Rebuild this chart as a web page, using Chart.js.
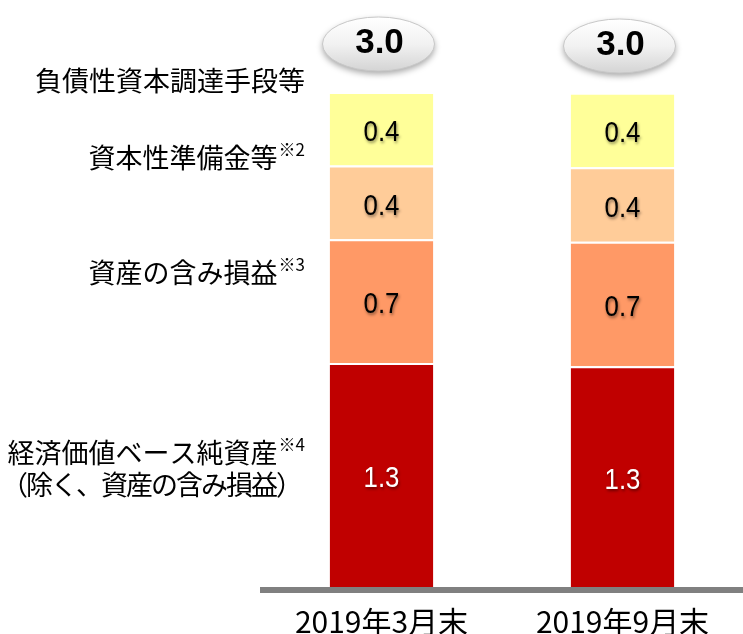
<!DOCTYPE html>
<html>
<head>
<meta charset="utf-8">
<script src="https://cdn.jsdelivr.net/npm/chart.js@4"></script>
<style>
  html, body { margin: 0; padding: 0; background: #fff; }
  #wrap { width: 743px; height: 634px; }
</style>
</head>
<body>
<div id="wrap"><canvas id="capitalChart" width="743" height="634"></canvas></div>
<script>
// categories and series (下から順に積み上げ)
const categories = ["2019年3月末", "2019年9月末"];
const netAssets = [1.34, 1.32];          // 経済価値ベース純資産
const unrealizedGains = [0.74, 0.745];   // 資産の含み損益
const capitalReserves = [0.44, 0.445];   // 資本性準備金等
const debtCapital = [0.44, 0.445];       // 負債性資本調達手段等

const seriesColors = ["#C00000", "#FF9966", "#FFCC99", "#FFFF99"];
const seriesNames = ["経済価値ベース純資産", "資産の含み損益", "資本性準備金等", "負債性資本調達手段等"];
const seriesNotes = ["※4", "※3", "※2", ""];
const seriesSubLines = ["（除く、資産の含み損益）", "", "", ""];
// vertical placement of the names on the left
const nameY = [453, 273, 158, 81];

const totals = categories.map((c, i) =>
    netAssets[i] + unrealizedGains[i] + capitalReserves[i] + debtCapital[i]);

const CJK = '"Noto Sans CJK JP", "Noto Sans", sans-serif';
const NUM = '"Liberation Sans", Arial, sans-serif';

// gray base line under the bars
const baseLine = {
    id: "baseLine",
    beforeDatasetsDraw(chart) {
        const ctx = chart.ctx;
        const area = chart.chartArea;
        ctx.save();
        ctx.fillStyle = "#808080";
        ctx.fillRect(area.left - 1, area.bottom, chart.width - area.left + 1, 6);
        ctx.restore();
    }
};

// category names under the base line
const categoryLabels = {
    id: "categoryLabels",
    afterDraw(chart) {
        const ctx = chart.ctx;
        const xs = chart.scales.x;
        ctx.save();
        ctx.font = "30px " + CJK;
        ctx.fillStyle = "#000";
        ctx.textAlign = "center";
        ctx.textBaseline = "middle";
        categories.forEach((c, i) => {
            ctx.fillText(c, xs.getPixelForValue(i), chart.chartArea.bottom + 35);
        });
        ctx.restore();
    }
};

// numbers inside each segment (slightly condensed)
const segmentLabels = {
    id: "segmentLabels",
    afterDatasetsDraw(chart) {
        const ctx = chart.ctx;
        chart.data.datasets.forEach((ds, di) => {
            const meta = chart.getDatasetMeta(di);
            meta.data.forEach((bar, i) => {
                const y = (bar.y + bar.base) / 2 + 4;
                ctx.save();
                ctx.translate(bar.x, y);
                ctx.scale(0.86, 1);
                ctx.font = "30px " + NUM;
                ctx.textAlign = "center";
                ctx.textBaseline = "middle";
                ctx.shadowColor = "rgba(0,0,0,0.45)";
                ctx.shadowBlur = 3;
                ctx.shadowOffsetX = 1;
                ctx.shadowOffsetY = 2;
                ctx.fillStyle = di === 0 ? "#ffffff" : "#000000";
                ctx.fillText(ds.data[i].toFixed(1), 0, 0);
                ctx.restore();
            });
        });
    }
};

// total bubbles above the stacks
const totalBubbles = {
    id: "totalBubbles",
    afterDatasetsDraw(chart) {
        const ctx = chart.ctx;
        const top = chart.getDatasetMeta(chart.data.datasets.length - 1);
        top.data.forEach((bar, i) => {
            const cx = bar.x - 3;
            const cy = 44 + i * 2;
            ctx.save();
            const g = ctx.createLinearGradient(0, cy - 27, 0, cy + 27);
            g.addColorStop(0, "#ffffff");
            g.addColorStop(0.5, "#f2f2f2");
            g.addColorStop(1, "#d4d4d4");
            ctx.shadowColor = "rgba(0,0,0,0.35)";
            ctx.shadowBlur = 6;
            ctx.shadowOffsetY = 3;
            ctx.beginPath();
            ctx.ellipse(cx, cy, 56, 27, 0, 0, Math.PI * 2);
            ctx.fillStyle = g;
            ctx.fill();
            ctx.shadowColor = "transparent";
            ctx.strokeStyle = "#c8c8c8";
            ctx.lineWidth = 1;
            ctx.stroke();
            ctx.fillStyle = "#000";
            ctx.font = "bold 35px " + NUM;
            ctx.textAlign = "center";
            ctx.textBaseline = "middle";
            ctx.fillText(totals[i].toFixed(1), cx + 1, cy - 1);
            ctx.restore();
        });
    }
};

// series names on the left, right-aligned
const seriesTitles = {
    id: "seriesTitles",
    afterDraw(chart) {
        const ctx = chart.ctx;
        const right = 305;
        ctx.save();
        ctx.fillStyle = "#000";
        ctx.textBaseline = "middle";
        ctx.textAlign = "left";
        seriesNames.forEach((name, i) => {
            ctx.font = "17px " + CJK;
            const noteW = seriesNotes[i] ? ctx.measureText(seriesNotes[i]).width + 1 : 0;
            ctx.font = "27px " + CJK;
            const nameW = ctx.measureText(name).width;
            const x = right - noteW - nameW;
            ctx.fillText(name, x, nameY[i]);
            if (seriesNotes[i]) {
                ctx.font = "17px " + CJK;
                ctx.fillText(seriesNotes[i], x + nameW + 1, nameY[i] - 8);
            }
            if (seriesSubLines[i]) {
                ctx.font = "27px " + CJK;
                ctx.letterSpacing = "-2px";
                ctx.textAlign = "right";
                ctx.fillText(seriesSubLines[i], right - 4, nameY[i] + 32);
                ctx.textAlign = "left";
                ctx.letterSpacing = "0px";
            }
        });
        ctx.restore();
    }
};

const seriesData = [netAssets, unrealizedGains, capitalReserves, debtCapital];

new Chart(document.getElementById("capitalChart"), {
    type: "bar",
    data: {
        labels: categories,
        datasets: seriesData.map((values, i) => ({
            label: seriesNames[i],
            data: values,
            backgroundColor: seriesColors[i],
            borderColor: "#ffffff",
            borderWidth: { top: 2, left: 0, right: 0, bottom: 0 },
            borderSkipped: "start",
            categoryPercentage: 1,
            barPercentage: 0.43
        }))
    },
    options: {
        responsive: false,
        animation: false,
        devicePixelRatio: 1,
        layout: { padding: { top: 92, left: 261, right: -3, bottom: 47 } },
        plugins: {
            legend: { display: false },
            tooltip: { enabled: false }
        },
        scales: {
            x: {
                stacked: true,
                display: false
            },
            y: {
                stacked: true,
                display: false,
                min: 0,
                max: Math.max(...totals)
            }
        }
    },
    plugins: [baseLine, segmentLabels, totalBubbles, seriesTitles, categoryLabels]
});
</script>
</body>
</html>
